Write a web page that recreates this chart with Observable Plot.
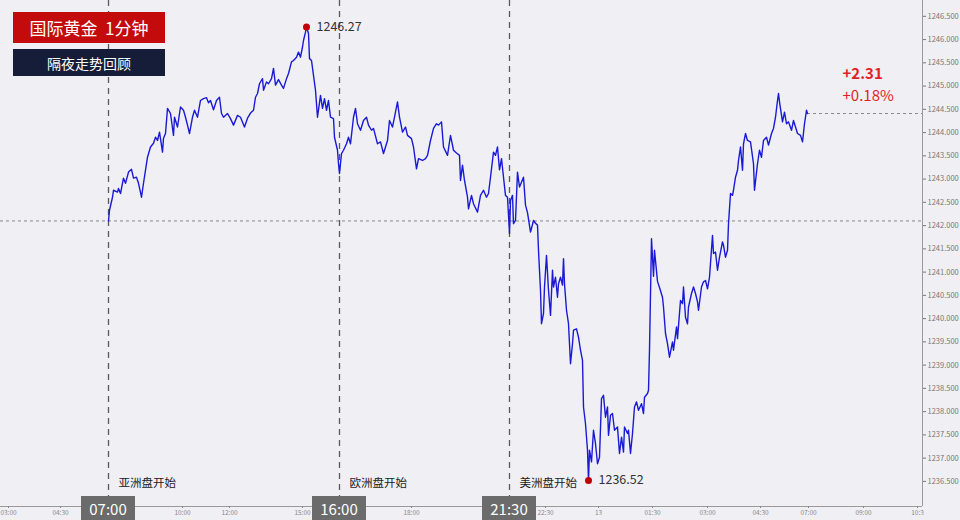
<!DOCTYPE html>
<html><head><meta charset="utf-8">
<script src="https://cdn.jsdelivr.net/npm/d3@7"></script>
<script src="https://cdn.jsdelivr.net/npm/@observablehq/plot@0.6"></script>
<style>
html,body{margin:0;padding:0;background:#f0eff4;}
#wrap{position:relative;width:960px;height:520px;overflow:hidden;background:#f0eff4;font-family:"Noto Sans CJK SC","Noto Sans",sans-serif;}
.box{position:absolute;color:#fff;display:flex;align-items:center;justify-content:center;white-space:pre;box-sizing:border-box;}
</style></head>
<body><div id="wrap"></div>
<script>
// ---- data ----
const title = "国际黄金\u00a0\u00a01分钟";
const subtitle = "隔夜走势回顾";
const bars = [0,1,4,5,9,10,12,15,17,20,23,25,28,30,33,35,39,42,45,47,49,51,54,55,57,59,62,65,66,69,72,75,77,79,81,84,86,89,92,95,98,100,102,105,108,111,113,115,119,122,125,129,132,136,139,142,145,147,149,151,154,155,158,160,163,165,167,170,173,175,178,180,183,185,188,190,192,194,195,197,198,200,201,203,205,207,209,212,214,216,218,220,222,225,226,229,230,231,233,235,238,240,242,245,247,249,252,255,258,260,263,265,269,272,275,279,281,284,286,289,291,294,297,299,303,305,308,310,314,317,319,322,325,328,330,333,335,339,342,345,348,351,352,354,356,359,360,363,365,369,372,375,378,380,382,385,387,389,391,393,395,397,399,401,402,404,405,407,409,411,415,417,419,422,425,427,429,430,432,433,435,436,438,440,442,444,445,447,449,450,452,454,455,456,458,460,462,464,465,468,470,472,474,475,477,479,480,481,483,485,487,489,491,493,495,497,499,500,502,504,506,509,511,513,515,516,519,520,522,524,526,528,530,533,535,536,539,540,541,543,545,546,549,551,554,555,557,559,561,564,565,568,569,572,574,575,577,579,580,583,585,587,589,590,593,595,597,599,601,604,605,607,609,611,614,615,617,619,620,622,624,625,627,629,630,632,634,635,637,639,642,645,646,649,651,653,655,658,660,663,665,667,669,670,671,674,676,678,680,683,685,687,689,692,694,696,698,699];
const prices = [
1242.10,1242.33,1242.61,1242.76,1242.72,1242.80,1242.69,1243.02,1242.91,1243.15,
1243.21,1243.02,1243.04,1242.91,1242.61,1242.91,1243.47,1243.69,1243.77,1243.90,
1243.83,1244.01,1243.58,1243.88,1243.98,1244.52,1244.41,1243.94,1244.33,1244.12,
1244.55,1244.48,1244.33,1244.16,1243.98,1244.33,1244.48,1244.33,1244.69,1244.73,
1244.75,1244.64,1244.69,1244.49,1244.69,1244.76,1244.41,1244.33,1244.41,1244.30,
1244.16,1244.37,1244.33,1244.12,1244.31,1244.42,1244.48,1244.76,1244.84,1245.05,
1245.16,1244.91,1245.09,1245.05,1245.16,1245.38,1245.02,1245.14,1245.02,1244.95,
1245.16,1245.27,1245.52,1245.55,1245.62,1245.73,1245.62,1245.84,1245.98,1246.16,
1246.27,1246.13,1245.59,1245.55,1245.23,1244.91,1244.33,1244.80,1244.52,1244.73,
1244.48,1244.69,1244.33,1244.30,1243.90,1243.62,1243.33,1243.12,1243.55,1243.62,
1243.76,1243.90,1243.76,1244.33,1244.52,1244.19,1244.05,1244.26,1244.33,1244.16,
1244.05,1244.09,1243.76,1243.80,1243.55,1243.83,1244.26,1244.12,1244.33,1244.66,
1244.33,1244.01,1244.12,1243.94,1243.87,1243.69,1243.22,1243.44,1243.40,1243.44,
1243.51,1243.83,1244.09,1244.19,1244.16,1244.23,1243.69,1243.51,1243.94,1243.62,
1243.56,1243.51,1242.97,1243.30,1242.97,1242.61,1242.36,1242.65,1242.47,1242.29,
1242.65,1242.76,1242.61,1242.69,1243.04,1243.58,1243.51,1243.69,1243.20,1243.44,
1243.04,1242.65,1242.61,1241.83,1242.54,1242.65,1242.04,1242.11,1243.15,1242.83,
1243.04,1242.44,1242.28,1241.86,1242.11,1242.05,1242.01,1241.47,1240.61,1239.89,
1240.11,1240.68,1241.36,1240.61,1240.07,1241.04,1240.68,1240.89,1240.46,1240.75,
1240.89,1240.72,1241.29,1240.75,1240.18,1239.89,1239.03,1239.46,1239.75,1239.78,
1239.60,1239.32,1239.10,1238.10,1237.74,1237.17,1236.52,1237.17,1236.92,1237.60,
1237.31,1236.88,1237.02,1238.28,1238.35,1237.88,1238.10,1237.49,1237.92,1237.96,
1237.60,1237.67,1237.10,1237.45,1237.13,1237.67,1237.53,1237.60,1237.10,1237.53,
1238.10,1238.21,1238.03,1238.17,1237.96,1238.31,1238.39,1238.46,1239.32,1241.72,
1240.91,1241.47,1240.80,1240.67,1240.46,1240.25,1239.68,1239.46,1239.17,1239.50,
1239.32,1239.82,1239.57,1240.39,1240.32,1240.68,1240.03,1239.89,1240.25,1240.54,
1240.68,1240.54,1240.36,1240.18,1240.68,1240.79,1240.82,1240.64,1240.89,1241.79,
1241.40,1241.43,1241.04,1241.32,1241.65,1241.58,1241.32,1241.47,1242.04,1242.69,
1242.65,1242.76,1243.04,1243.19,1243.40,1243.69,1243.19,1243.76,1243.98,1243.83,
1243.80,1243.33,1242.76,1243.33,1243.62,1243.47,1243.83,1243.90,1243.73,1243.98,
1244.09,1244.33,1244.69,1244.84,1244.66,1244.23,1244.44,1244.19,1244.23,1244.05,
1244.26,1244.12,1243.98,1243.94,1243.80,1244.19,1244.48,1244.41];
const prevClose = 1242.10;
const changeAbs = "+2.31";
const changePct = "+0.18%";
const sessionBars = [0, 231, 401];
const sessionTimes = ["07:00", "16:00", "21:30"];
const sessionNames = ["亚洲盘开始", "欧洲盘开始", "美洲盘开始"];
const xTickBars = [-100, -48, 74, 121, 194, 303, 437, 490, 544, 599, 652, 700, 755, 809];
const xTickLabels = ["03:00","04:30","10:00","12:00","15:00","18:00","22:30","13","01:30","03:00","04:30","07:00","09:00","10:3"];
const yTicks = [1236.5,1237,1237.5,1238,1238.5,1239,1239.5,1240,1240.5,1241,1241.5,1242,1242.5,1243,1243.5,1244,1244.5,1245,1245.5,1246,1246.5];
const xDomain = [-108, 814];
const yDomain = [1235.96, 1246.84];

// ---- build ----
const series = bars.map((b, i) => ({bar: b, price: prices[i]})).filter(d => d.price != null);
const hi = d3.greatest(series, d => d.price);
const lo = d3.least(series, d => d.price);
const last = series[series.length - 1];
const sessions = sessionBars.map((b, i) => ({bar: b, time: sessionTimes[i], name: sessionNames[i]}));
const labelMap = new Map(xTickBars.map((b, i) => [b, xTickLabels[i]]));
const font = '"Noto Sans CJK SC","Noto Sans",sans-serif';

const plot = Plot.plot({
  width: 960, height: 520,
  marginLeft: 0, marginRight: 38, marginTop: 0, marginBottom: 14,
  style: {background: "transparent", fontFamily: font, overflow: "visible"},
  x: {domain: xDomain, axis: null},
  y: {domain: yDomain, axis: null},
  marks: [
    Plot.ruleY([prevClose], {stroke: "#8a8a8a", strokeDasharray: "3 3", strokeWidth: 1}),
    Plot.ruleY([last], {y: "price", x1: "bar", x2: () => xDomain[1], stroke: "#8a8a8a", strokeDasharray: "3 3", strokeWidth: 1}),
    Plot.ruleX(sessions, {x: "bar", stroke: "#5a5a5a", strokeDasharray: "6 5", strokeWidth: 1.3}),
    Plot.ruleY([yDomain[0]], {stroke: "#9a9a9a"}),
    Plot.ruleX([xDomain[1]], {stroke: "#9a9a9a"}),
    Plot.axisY({anchor: "right", label: null, ticks: yTicks, tickFormat: d => d.toFixed(3), tickSize: 3, tickPadding: 2, fontSize: 7.5, color: "#777"}),
    Plot.axisX({anchor: "bottom", label: null, ticks: xTickBars, tickFormat: d => labelMap.get(d), tickSize: 2, tickPadding: 2, fontSize: 6.5, color: "#888"}),
    Plot.line(series, {x: "bar", y: "price", stroke: "#1a1ad6", strokeWidth: 1.4}),
    Plot.dot([hi, lo], {x: "bar", y: "price", r: 3.5, fill: "#c00000"}),
    Plot.text([hi, lo], {x: "bar", y: "price", text: d => d.price.toFixed(2), textAnchor: "start", dx: 10, fontSize: 12.5, fill: "#333"}),
    Plot.text(sessions, {x: "bar", frameAnchor: "bottom", text: "name", textAnchor: "start", dx: 10, dy: -20, fontSize: 11.5, fill: "#222"}),
    Plot.text([last], {x: "bar", y: "price", text: () => changeAbs, textAnchor: "start", dx: 35, dy: -39, fontSize: 15, fontWeight: "bold", fill: "#e31e24"}),
    Plot.text([last], {x: "bar", y: "price", text: () => changePct, textAnchor: "start", dx: 35, dy: -17, fontSize: 15, fill: "#e31e24"})
  ]
});

const wrap = document.getElementById("wrap");
wrap.appendChild(plot);
const xs = plot.scale("x");

function box(text, left, top, w, h, bg, fs) {
  const d = document.createElement("div");
  d.className = "box";
  d.style.left = left + "px"; d.style.top = top + "px";
  d.style.width = w + "px"; d.style.height = h + "px";
  d.style.background = bg; d.style.fontSize = fs + "px";
  d.textContent = text;
  wrap.appendChild(d);
}
box(title, 13, 12, 152, 31, "#c30b0b", 17);
box(subtitle, 13, 49, 152, 27, "#161d38", 14);
sessions.forEach(s => box(s.time, xs.apply(s.bar) - 27, 496, 54, 24, "#6b6b6b", 15));
</script>
</body></html>
